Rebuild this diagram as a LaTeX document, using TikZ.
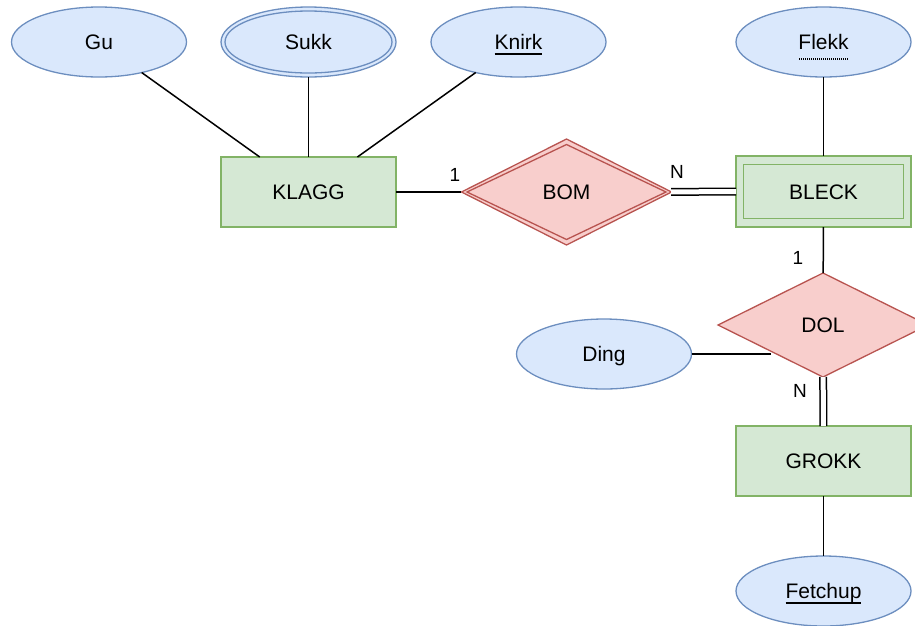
\documentclass[tikz,border=0pt]{standalone}
\usepackage{fontspec}
\setmainfont{Liberation Sans}
\usetikzlibrary{shapes.geometric}
\definecolor{attrfill}{HTML}{DAE8FC}
\definecolor{attrline}{HTML}{6C8EBF}
\definecolor{entfill}{HTML}{D5E8D4}
\definecolor{entline}{HTML}{82B366}
\definecolor{relfill}{HTML}{F8CECC}
\definecolor{relline}{HTML}{B85450}
\newcommand{\ulsolid}[1]{\setbox0=\hbox{#1}\rlap{\rule[-5pt]{\wd0}{1.3pt}}\box0}
\newcommand{\uldotted}[1]{\setbox0=\hbox{#1}\rlap{\raisebox{-10pt}{\hbox to \wd0{\xleaders\hbox to 2pt{\hss\rule{1pt}{1.1pt}\hss}\hfill}}}\box0}
\begin{document}
\begin{tikzpicture}[x=1pt,y=-1pt,
  basic/.style={inner sep=0pt, outer sep=0pt, line width=1.3pt, font=\fontsize{21}{25}\selectfont, text height=15pt, text depth=0pt},
  attr/.style={basic, ellipse, draw=attrline, fill=attrfill, minimum width=175pt, minimum height=70pt},
  entity/.style={basic, rectangle, draw=entline, fill=entfill, minimum width=175pt, minimum height=70pt},
  rel/.style={basic, diamond, draw=relline, fill=relfill, minimum width=210pt, minimum height=105pt},
  conn/.style={line width=1.5pt, draw=black},
  dconn/.style={conn, double, double distance=5pt},
  card/.style={inner sep=0pt, font=\fontsize{19}{23}\selectfont, text height=13.6pt, text depth=0pt}
]
\useasboundingbox (0,0) rectangle (915,625);

% attributes
\node[attr] (gu) at (99,42) {Gu};
\node[attr] (sukk) at (308.5,42) {Sukk};
\draw[attrline, line width=1.3pt] (sukk.center) ellipse [x radius=83.5pt, y radius=31pt];
\node[attr] (knirk) at (518.5,42) {\ulsolid{Knirk}};
\node[attr] (flekk) at (823.5,42) {\uldotted{Flekk}};
\node[attr] (ding) at (604,354) {Ding};
\node[attr] (fetchup) at (823.5,591) {\ulsolid{Fetchup}};

% entities
\node[entity] (klagg) at (308.5,192) {KLAGG};
\node[entity, minimum height=71pt] (bleck) at (823.5,191.5) {BLECK};
\draw[entline, line width=1.3pt] ([shift={(7.5,8.5)}]bleck.north west) rectangle ([shift={(-7.5,-8.5)}]bleck.south east);
\node[entity] (grokk) at (823.5,461) {GROKK};

% relationships
\node[rel, minimum height=106pt] (bom) at (566.5,192) {BOM};
\draw[relline, line width=1.3pt] ([shift={(-99.5,0)}]bom.center) -- ([shift={(0,-47.5)}]bom.center) -- ([shift={(99.5,0)}]bom.center) -- ([shift={(0,47.5)}]bom.center) -- cycle;
\node[rel, minimum height=104pt] (dol) at (823,325) {DOL};

% connectors
\draw[conn] (gu) -- (klagg);
\draw[conn] (sukk) -- (klagg);
\draw[conn] (knirk) -- (klagg);
\draw[conn] (klagg) -- (bom);
\draw[dconn] (bom) -- (bleck);
\draw[conn] (flekk) -- (bleck);
\draw[conn] (bleck) -- (dol);
\draw[conn] (ding.east) -- (ding.east -| dol.south west);
\draw[dconn] (dol) -- (grokk);
\draw[conn] (grokk) -- (fetchup);

% cardinalities
\node[card] (c1) at (455,175) {1};
\node[card] (c2) at (677,171.5) {N};
\node[card] (c3) at (798,257.5) {1};
\node[card] (c4) at (800,391) {N};
\end{tikzpicture}
\end{document}
